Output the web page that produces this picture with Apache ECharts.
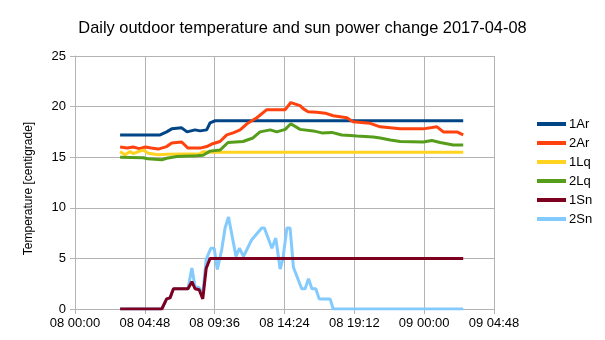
<!DOCTYPE html>
<html>
<head>
<meta charset="utf-8">
<script src="https://cdn.jsdelivr.net/npm/echarts@6/dist/echarts.min.js"></script>
<style>html,body{margin:0;padding:0;background:#fff}#c{width:605px;height:340px}</style>
</head>
<body>
<div id="c"></div>
<script>
const chartTitle = "Daily outdoor temperature and sun power change 2017-04-08";
const yAxisName = "Temperature [centigrade]";
const seriesNames = ["1Ar", "2Ar", "1Lq", "2Lq", "1Sn", "2Sn"];
const seriesColors = ["#004586", "#ff420e", "#ffd320", "#579d1c", "#7e0021", "#83caff"];
const xTickHours = [0, 4.8, 9.6, 14.4, 19.2, 24, 28.8];
const yTicks = [0, 5, 10, 15, 20, 25];

const ar1 = [["08 03:06",17.2],["08 05:51",17.2],["08 06:18",17.5],["08 06:39",17.8],["08 07:20",17.9],["08 07:42",17.5],["08 08:15",17.7],["08 08:36",17.6],["08 09:03",17.7],["08 09:17",18.4],["08 09:38",18.6],["09 02:41",18.6]];
const ar2 = [["08 03:06",16.0],["08 03:35",15.9],["08 04:00",16.0],["08 04:25",15.85],["08 04:50",16.0],["08 05:15",15.9],["08 05:43",15.8],["08 06:18",16.05],["08 06:39",16.4],["08 07:20",16.5],["08 07:46",15.9],["08 08:36",15.9],["08 09:03",16.05],["08 09:24",16.3],["08 09:58",16.55],["08 10:26",17.2],["08 10:52",17.4],["08 11:21",17.7],["08 11:49",18.3],["08 12:30",18.9],["08 13:11",19.7],["08 14:27",19.7],["08 14:50",20.4],["08 15:28",20.1],["08 15:41",19.8],["08 16:01",19.5],["08 16:37",19.45],["08 17:12",19.35],["08 17:45",19.1],["08 18:41",18.9],["08 19:07",18.5],["08 20:17",18.35],["08 20:59",18.0],["08 22:21",17.8],["08 23:56",17.8],["09 00:53",18.0],["09 01:19",17.5],["09 02:15",17.5],["09 02:41",17.2]];
const lq1 = [["08 03:06",15.55],["08 03:26",15.25],["08 03:47",15.55],["08 04:01",15.35],["08 04:21",15.55],["08 04:42",15.7],["08 05:02",15.4],["08 05:44",15.25],["08 06:18",15.3],["08 08:36",15.35],["08 08:48",15.55],["08 09:17",15.5],["09 02:41",15.5]];
const lq2 = [["08 03:06",15.0],["08 04:41",14.95],["08 05:00",14.85],["08 05:58",14.75],["08 06:18",14.9],["08 07:00",15.07],["08 08:22",15.15],["08 08:48",15.2],["08 09:17",15.6],["08 09:58",15.7],["08 10:31",16.45],["08 11:33",16.55],["08 12:14",16.9],["08 12:43",17.5],["08 13:25",17.7],["08 13:52",17.5],["08 14:27",17.75],["08 14:50",18.3],["08 15:28",17.75],["08 16:22",17.6],["08 16:30",17.7],["08 16:58",17.4],["08 17:39",17.45],["08 18:20",17.2],["08 18:55",17.15],["08 19:22",17.1],["08 20:30",17.0],["08 20:59",16.9],["08 21:40",16.7],["08 22:21",16.55],["08 23:56",16.5],["09 00:32",16.65],["09 01:06",16.45],["09 02:00",16.2],["09 02:41",16.2]];
const sn1 = [["08 03:06",0],["08 05:58",0],["08 06:18",1.0],["08 06:32",1.1],["08 06:46",2.0],["08 07:46",2.0],["08 08:02",2.7],["08 08:15",2.0],["08 08:32",1.9],["08 08:47",1.0],["08 09:01",4.0],["08 09:17",5.0],["09 02:41",5.0]];
const sn2 = [["08 03:06",0],["08 05:58",0],["08 06:18",1.0],["08 06:32",1.1],["08 06:46",2.0],["08 07:46",2.0],["08 08:02",4.05],["08 08:15",2.2],["08 08:32",2.1],["08 08:47",1.5],["08 09:01",4.9],["08 09:20",6.0],["08 09:34",6.0],["08 09:47",3.9],["08 10:05",5.85],["08 10:19",8.0],["08 10:33",9.1],["08 11:04",5.2],["08 11:18",6.0],["08 11:35",5.2],["08 12:09",6.85],["08 12:50",8.0],["08 13:01",8.0],["08 13:32",6.0],["08 13:48",7.0],["08 14:06",3.95],["08 14:17",4.9],["08 14:34",8.0],["08 14:47",8.0],["08 15:01",4.1],["08 15:35",2.0],["08 15:49",2.0],["08 16:03",3.0],["08 16:17",2.0],["08 16:33",2.0],["08 16:47",1.0],["08 17:32",1.0],["08 17:45",0],["09 02:41",0]];

const seriesData = [ar1, ar2, lq1, lq2, sn1, sn2];

function toHours(s) {
  const day = parseInt(s.slice(0, 2), 10);
  const hh = parseInt(s.slice(3, 5), 10);
  const mm = parseInt(s.slice(6, 8), 10);
  return (day - 8) * 24 + hh + mm / 60;
}
function fmtHours(h) {
  const total = Math.round(h * 60);
  const day = 8 + Math.floor(total / 1440);
  const rem = total % 1440;
  const hh = Math.floor(rem / 60), mm = rem % 60;
  const p = n => (n < 10 ? "0" : "") + n;
  return p(day) + " " + p(hh) + ":" + p(mm);
}

const chart = echarts.init(document.getElementById("c"), null, {renderer: "canvas"});
const fontFam = "'Liberation Sans', Arial, sans-serif";
const gridColor = "#b3b3b3";

chart.setOption({
  animation: false,
  backgroundColor: "#fff",
  textStyle: {fontFamily: fontFam},
  title: {
    text: chartTitle,
    left: "center",
    top: 15,
    textStyle: {fontFamily: fontFam, fontSize: 16.4, fontWeight: "normal", color: "#000"}
  },
  legend: {
    orient: "vertical",
    left: 532,
    top: 111,
    icon: "rect",
    itemWidth: 29,
    itemHeight: 4,
    itemGap: 3,
    data: seriesNames,
    textStyle: {fontFamily: fontFam, fontSize: 13, color: "#000", lineHeight: 16, padding: [0, 0, 0, -2]}
  },
  grid: {left: 75, right: 111, top: 56, bottom: 31, containLabel: false},
  xAxis: {
    type: "value",
    min: xTickHours[0],
    max: xTickHours[xTickHours.length - 1],
    interval: 4.8,
    axisLine: {show: true, onZero: false, lineStyle: {color: gridColor}},
    axisTick: {show: true, length: 5, lineStyle: {color: gridColor}},
    splitLine: {show: true, lineStyle: {color: gridColor}},
    axisLabel: {color: "#000", fontSize: 13, fontFamily: fontFam, margin: 8, formatter: v => fmtHours(v)}
  },
  yAxis: {
    type: "value",
    min: yTicks[0],
    max: yTicks[yTicks.length - 1],
    interval: 5,
    name: yAxisName,
    nameLocation: "middle",
    nameGap: 40,
    nameTextStyle: {color: "#000", fontSize: 12, fontFamily: fontFam, padding: [0, 12, 0, 0]},
    axisLine: {show: true, lineStyle: {color: gridColor}},
    axisTick: {show: true, length: 5, lineStyle: {color: gridColor}},
    splitLine: {show: true, lineStyle: {color: gridColor}},
    axisLabel: {color: "#000", fontSize: 13, fontFamily: fontFam, margin: 9}
  },
  series: seriesNames.map((name, i) => ({
    name: name,
    type: "line",
    data: seriesData[i].map(p => [toHours(p[0]), p[1]]),
    showSymbol: false,
    symbol: "none",
    z: name === "1Sn" ? 5 : 2,
    color: seriesColors[i],
    lineStyle: {width: 3, color: seriesColors[i]}
  }))
});
</script>
</body>
</html>
